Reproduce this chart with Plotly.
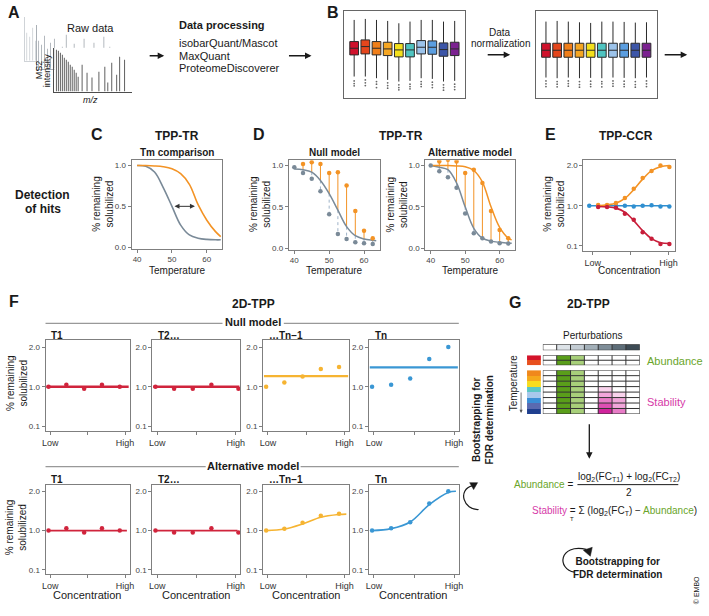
import plotly.graph_objects as go

W, H = 709, 616
FONT = "Liberation Sans"

# ---------------- data ----------------
# Panel A: MS2 spectra (relative m/z position, intensity)
front_mz = [2, 4, 6, 8, 10, 12, 14, 16, 18, 20, 22, 24, 28, 33, 38, 45, 51, 54, 58, 63, 66, 71]
front_int = [42, 41, 39, 37, 34, 32, 30, 27, 25, 22, 19, 15, 27, 19, 14, 20, 25, 9, 29, 17, 35, 32]
back_mz = [2, 5, 8, 11, 14, 18, 22, 26, 30, 34, 38, 43, 48, 53, 58, 63, 68, 74]
back_int = [28, 24, 33, 20, 26, 30, 16, 22, 34, 18, 25, 12, 30, 20, 26, 14, 32, 22]

# Panel B: boxplot statistics per TMT channel (raw and normalised)
channels = list(range(10))
box_colors = ["#d0122c", "#e4461c", "#f07f1a", "#f5a623", "#f4e01c",
              "#4fc4c1", "#9cc3ea", "#5b9ee0", "#3d56a8", "#7b2190"]
raw_q1 = [150, 153, 150, 148, 144, 144, 153, 152, 146, 148]
raw_med = [170, 175, 170, 168, 165, 165, 173, 173, 166, 168]
raw_q3 = [190, 195, 190, 188, 184, 184, 193, 192, 186, 188]
raw_hi = [255, 258, 255, 252, 245, 250, 255, 255, 250, 252]
raw_lo = [85, 85, 80, 75, 70, 72, 80, 78, 70, 72]
raw_out = [[72, 64, 57], [75, 66, 58], [70, 62, 52], [66, 58, 50], [60, 52, 45],
           [62, 55, 48], [70, 62, 55], [68, 60, 52], [60, 52, 44], [62, 54, 46]]
norm_q1 = [143, 143, 143, 143, 143, 143, 143, 143, 143, 143]
norm_med = [164, 164, 164, 164, 164, 164, 164, 164, 164, 164]
norm_q3 = [185, 185, 185, 185, 185, 185, 185, 185, 185, 185]
norm_hi = [250, 252, 250, 248, 246, 250, 250, 249, 247, 248]
norm_lo = [82, 80, 82, 80, 81, 80, 82, 81, 80, 82]
norm_out = [[72, 63, 55], [70, 62, 54], [72, 64, 56], [70, 61, 53], [71, 62, 55],
            [70, 63, 54], [72, 64, 56], [71, 62, 55], [70, 61, 53], [72, 63, 55]]

# Panel C: Tm comparison curves
tm_temp = [40, 42.5, 45, 47.5, 50, 52.5, 55, 57.5, 60, 62.5, 64]
tm_vehicle = [1.0, 0.99, 0.92, 0.73, 0.5, 0.27, 0.15, 0.11, 0.095, 0.09, 0.09]
tm_treated = [1.0, 1.0, 0.995, 0.985, 0.96, 0.9, 0.77, 0.52, 0.33, 0.19, 0.13]

# Panel D: TPP-TR null / alternative model
d_temp = [40, 42.5, 45, 47.5, 50, 52.5, 55, 57.5, 60, 62.5]
fit_temp = [40, 42.5, 45, 47.5, 50, 52.5, 55, 57.5, 60, 62.5, 63.5]
null_ctrl = [0.98, 0.91, 0.84, 0.69, 0.41, 0.17, 0.11, 0.07, 0.06, 0.05]
null_trt = [None, 1.02, 1.04, 1.02, 0.91, 0.92, 0.76, 0.45, 0.21, 0.12]
null_fit = [0.96, 0.95, 0.92, 0.82, 0.66, 0.46, 0.26, 0.15, 0.11, 0.095, 0.09]
alt_ctrl = [1.0, 0.93, 0.86, 0.73, 0.42, 0.18, 0.12, 0.08, 0.06, 0.055]
alt_trt = [None, 1.05, 1.07, 1.05, 0.91, 0.95, 0.79, 0.45, 0.22, 0.12]
alt_fit_ctrl = [1.0, 0.98, 0.95, 0.79, 0.5, 0.24, 0.12, 0.085, 0.07, 0.06, 0.058]
alt_fit_trt = [1.0, 1.0, 1.0, 0.995, 0.985, 0.94, 0.8, 0.5, 0.25, 0.12, 0.1]

# Panel E: TPP-CCR (display scale: 0 -> 0.1, 1 -> 1.0, 2 -> 2.0)
e_conc_all = [0, 1, 2, 3, 4, 5, 6, 7, 8, 9]
e_conc = [1, 2, 3, 4, 5, 6, 7, 8, 9]
e_up = [1.02, 1.02, 1.07, 1.19, 1.42, 1.69, 1.86, 2.0, 1.96]
e_up_fit = [1.0, 1.02, 1.06, 1.18, 1.4, 1.66, 1.87, 1.97, 2.0]
e_down = [0.97, 0.97, 0.95, 0.8, 0.65, 0.34, 0.18, 0.05, 0.05]
e_down_fit = [0.98, 0.97, 0.94, 0.84, 0.63, 0.38, 0.18, 0.08, 0.06]
e_flat = [1.0, 1.0, 1.0, 1.0, 1.0, 0.98, 1.0, 1.01, 0.98, 0.98]
e_flat_fit = [1.0, 1.0, 1.0, 1.0, 1.0, 1.0, 1.0, 1.0, 1.0, 1.0]

# Panel F: 2D-TPP per temperature (display scale as in E)
f_titles = ["T1", "T2…", "…Tn−1", "Tn"]
f_x = [[0, 1, 2, 3, 4], [0, 1, 2, 3, 4.45], [0, 1, 2, 3, 4], [0, 1, 2, 3, 4]]
f_null_pts = [[1.0, 1.05, 0.95, 1.05, 1.0], [1.0, 0.95, 0.95, 1.05, 0.95],
              [1.0, 1.11, 1.26, 1.45, 1.5], [1.0, 1.05, 1.21, 1.7, 2.0]]
f_null_level = [1.0, 1.0, 1.27, 1.49]
f_alt_pts = [[1.0, 1.06, 0.95, 1.06, 1.0], [1.0, 0.95, 0.95, 1.06, 0.95],
             [1.0, 1.05, 1.2, 1.38, 1.43], [1.0, 1.06, 1.21, 1.69, 2.0]]
f_alt_fit_x = [0, 1, 2, 3, 4, 4.4]
f_alt_fit = [[1.0, 1.0, 1.0, 1.0, 1.0, 1.0], [1.0, 1.0, 1.0, 1.0, 1.0, 1.0],
             [1.0, 1.04, 1.17, 1.34, 1.41, 1.42], [1.0, 1.05, 1.22, 1.66, 1.97, 2.0]]
f_colors = ["#d0243c", "#d0243c", "#f6b432", "#3a97d4"]

# Panel G: 2D-TPP matrix
pert_levels = [[0, 1, 2, 3, 4, 5, 6]]
pert_colors = ["#ffffff", "#dde3e8", "#c3ccd3", "#a2afb8", "#7e8d98", "#5d6d78", "#3d4b55"]
temp_top = [[0], [1]]
temp_top_colors = ["#d4142a", "#e8501e"]
temp_bot = [[0], [1], [2], [3], [4], [5], [6], [7]]
temp_bot_colors = ["#f0881c", "#f5a81c", "#f7dc1e", "#5bc6c4", "#a8c8ec", "#3a8ed6", "#5a6ab0", "#1f3f8f"]
grid_colors = ["#ffffff", "#5a9e1a", "#a8d07a", "#f9d3ec", "#f1a6da", "#e87cc7", "#dd4fb3", "#d0239c"]
grid_top = [[0, 1, 2, 0, 0, 0, 0],
            [0, 1, 2, 0, 0, 0, 0]]
grid_bot = [[0, 1, 2, 0, 0, 0, 0],
            [0, 1, 2, 0, 0, 0, 0],
            [0, 1, 2, 0, 0, 0, 0],
            [0, 1, 2, 0, 3, 0, 0],
            [0, 1, 2, 0, 4, 3, 0],
            [0, 1, 2, 0, 5, 4, 0],
            [0, 1, 2, 0, 6, 4, 0],
            [0, 1, 2, 0, 7, 5, 0]]

# ---------------- helpers ----------------
fig = go.Figure()
axes_layout = {}
counter = [0]
anns = []
shapes = []


def axes(x0, x1, y0, y1, xo=None, yo=None):
    counter[0] += 1
    n = counter[0]
    s = "" if n == 1 else str(n)
    xa = dict(domain=[x0 / W, x1 / W], anchor="y" + s, showgrid=False, zeroline=False)
    ya = dict(domain=[1 - y1 / H, 1 - y0 / H], anchor="x" + s, showgrid=False, zeroline=False)
    xa.update(xo or {})
    ya.update(yo or {})
    axes_layout["xaxis" + s] = xa
    axes_layout["yaxis" + s] = ya
    return "x" + s, "y" + s


def T(x, y, s, size=10, bold=False, color="#1a1a1a", xa="center", ya="middle", angle=0, italic=False):
    if bold:
        s = "<b>" + s + "</b>"
    if italic:
        s = "<i>" + s + "</i>"
    anns.append(dict(x=x / W, y=1 - y / H, xref="paper", yref="paper", text=s, showarrow=False,
                     font=dict(size=size, color=color, family=FONT), xanchor=xa, yanchor=ya,
                     textangle=angle))


def ARR(x0, y0, x1, y1, w=1.3, head=2, size=1.0, color="#1a1a1a"):
    anns.append(dict(x=x1 / W, y=1 - y1 / H, xref="paper", yref="paper", ax=x0 - x1, ay=y0 - y1,
                     text="", showarrow=True, arrowhead=head, arrowsize=size, arrowwidth=w,
                     arrowcolor=color))


def LINE(x0, y0, x1, y1, color="#999999", w=1.2):
    shapes.append(dict(type="line", xref="paper", yref="paper", x0=x0 / W, x1=x1 / W,
                       y0=1 - y0 / H, y1=1 - y1 / H, line=dict(color=color, width=w)))


def P(x, y):
    return f"{x / W:.5f} {1 - y / H:.5f}"


def disc_scale(colors):
    n = len(colors)
    if n == 1:
        return [[0, colors[0]], [1, colors[0]]]
    return [[i / (n - 1), c] for i, c in enumerate(colors)]


frame = dict(showline=True, mirror=True, linecolor="#7f7f7f", linewidth=1, ticks="outside",
             ticklen=3, tickcolor="#7f7f7f", tickfont=dict(size=8, color="#444", family=FONT))
frame_nofont = {k: v for k, v in frame.items() if k != "tickfont"}

# ---------------- Panel A ----------------
layers = [  # (x0, x1, baseline y, colour)
    (22, 100, 61, "#cfd3d7"),
    (34, 112, 69, "#aab0b6"),
    (52, 130, 92, "#4d4d4d"),
]
for i, (lx0, lx1, base, col) in enumerate(layers):
    xa, ya = axes(lx0, lx1, base - 44, base,
                  dict(range=[0, 78], showline=True, linecolor=col, linewidth=1,
                       showticklabels=False, ticks=""),
                  dict(range=[0, 44], showline=True, linecolor=col, linewidth=1,
                       showticklabels=False, ticks=""))
    mz = front_mz if i == 2 else back_mz
    it = front_int if i == 2 else back_int
    fig.add_trace(go.Bar(x=mz, y=it, width=0.9, marker=dict(color=col, line=dict(width=0)),
                         xaxis=xa, yaxis=ya, hoverinfo="skip"))

T(11, 13, "A", 16, bold=True)
T(88, 28, "Raw data", 11)
T(36, 70, "MS2", 9, angle=-90)
T(44, 71, "intensity", 9, angle=-90)
T(88, 100, "m/z", 9, italic=True)
ARR(147, 56, 163, 56)
T(176, 25, "Data processing", 11, bold=True, xa="left")
T(176, 43, "isobarQuant/Mascot", 11, xa="left")
T(176, 56, "MaxQuant", 11, xa="left")
T(176, 68, "ProteomeDiscoverer", 11, xa="left")
ARR(288, 56, 312, 56)

# ---------------- Panel B ----------------
T(334, 13, "B", 16, bold=True)
for (bx0, bx1, q1, med, q3, lo, hi, outs) in [
        (345, 467, raw_q1, raw_med, raw_q3, raw_lo, raw_hi, raw_out),
        (539, 661, norm_q1, norm_med, norm_q3, norm_lo, norm_hi, norm_out)]:
    xa, ya = axes(bx0, bx1, 11, 98,
                  dict(range=[-0.9, 9.9], showline=True, mirror=True, linecolor="#666",
                       showticklabels=False, ticks=""),
                  dict(range=[22, 282], showline=True, mirror=True, linecolor="#666",
                       showticklabels=False, ticks=""))
    for i in channels:
        fig.add_trace(go.Scatter(x=[i] * len(outs[i]), y=outs[i], mode="markers",
                                 marker=dict(size=1.8, color="#666"), xaxis=xa, yaxis=ya,
                                 hoverinfo="skip"))
        fig.add_trace(go.Box(x=[i], q1=[q1[i]], median=[med[i]], q3=[q3[i]],
                             lowerfence=[lo[i]], upperfence=[hi[i]], width=0.78,
                             whiskerwidth=0, fillcolor=box_colors[i], boxpoints=False,
                             line=dict(color="#2b2b2b", width=1), xaxis=xa, yaxis=ya,
                             hoverinfo="skip"))
T(503, 33, "Data", 10)
T(503, 44, "normalization", 10)
ARR(489, 55, 513, 55)
ARR(668, 55, 692, 55)

# ---------------- Panel C ----------------
T(40, 196, "Detection", 12, bold=True)
T(40, 210, "of hits", 12, bold=True)
T(95, 135, "C", 16, bold=True)
T(176, 137, "TPP-TR", 12, bold=True)
T(176, 153, "Tm comparison", 10, bold=True)

tr_x = dict(range=[38.4, 64.5], tickvals=[40, 50, 60], **frame)
tr_y = dict(range=[-0.02, 1.065], tickvals=[0, 0.5, 1.0], tickformat=".1f", **frame)
xc, yc = axes(130, 222, 161, 250, tr_x, tr_y)
fig.add_trace(go.Scatter(x=tm_temp, y=tm_vehicle, mode="lines", line=dict(color="#7a8a98", width=1.6, shape="spline"),
                         xaxis=xc, yaxis=yc, hoverinfo="skip"))
fig.add_trace(go.Scatter(x=tm_temp, y=tm_treated, mode="lines", line=dict(color="#f39325", width=1.6, shape="spline"),
                         xaxis=xc, yaxis=yc, hoverinfo="skip"))
anns.append(dict(x=56.6, y=0.5, ax=50.3, ay=0.5, xref=xc, yref=yc, axref=xc, ayref=yc, text="",
                 showarrow=True, arrowside="end+start", arrowhead=2, startarrowhead=2,
                 arrowwidth=1, arrowsize=1, startarrowsize=1, arrowcolor="#333"))
T(101, 205, "% remaining<br>solubilized", 10, angle=-90)
T(176, 272, "Temperature", 10)

# ---------------- Panel D ----------------
T(259, 135, "D", 16, bold=True)
T(403, 137, "TPP-TR", 12, bold=True)
for (dx0, dx1, title, ctrl, trt, fit_c, fit_t) in [
        (289, 381, "Null model", null_ctrl, null_trt, null_fit, None),
        (427, 518, "Alternative model", alt_ctrl, alt_trt, alt_fit_ctrl, alt_fit_trt)]:
    xd, yd = axes(dx0, dx1, 161, 251, tr_x, tr_y)
    ox, oy, gx, gy = [], [], [], []
    for i, t in enumerate(d_temp):
        if trt[i] is None:
            continue
        ox += [t, t, None]
        oy += [trt[i], fit_c[i], None]
        gx += [t, t, None]
        gy += [fit_c[i], ctrl[i], None]
    fig.add_trace(go.Scatter(x=gx, y=gy, mode="lines", line=dict(color="#9fb3c8", width=1, dash="dot"),
                             xaxis=xd, yaxis=yd, hoverinfo="skip"))
    fig.add_trace(go.Scatter(x=ox, y=oy, mode="lines", line=dict(color="#f39325", width=1),
                             xaxis=xd, yaxis=yd, hoverinfo="skip"))
    fig.add_trace(go.Scatter(x=fit_temp, y=fit_c, mode="lines", line=dict(color="#7a8a98", width=1.5, shape="spline"),
                             xaxis=xd, yaxis=yd, hoverinfo="skip"))
    if fit_t is not None:
        fig.add_trace(go.Scatter(x=fit_temp, y=fit_t, mode="lines", line=dict(color="#f39325", width=1.5, shape="spline"),
                                 xaxis=xd, yaxis=yd, hoverinfo="skip"))
    fig.add_trace(go.Scatter(x=d_temp, y=ctrl, mode="markers", marker=dict(color="#7a8a98", size=4.5),
                             xaxis=xd, yaxis=yd, hoverinfo="skip"))
    fig.add_trace(go.Scatter(x=d_temp, y=trt, mode="markers", marker=dict(color="#f39325", size=4.5),
                             xaxis=xd, yaxis=yd, hoverinfo="skip"))
    T((dx0 + dx1) / 2, 153, title, 10, bold=True)
    T((dx0 + dx1) / 2, 272, "Temperature", 10)
T(260, 205, "% remaining<br>solubilized", 10, angle=-90)
T(399, 205, "% remaining<br>solubilized", 10, angle=-90)

# ---------------- Panel E ----------------
T(554, 135, "E", 16, bold=True)
T(630, 137, "TPP-CCR", 12, bold=True)
ccr_y = dict(range=[-0.12, 2.13], tickvals=[0, 1, 2], ticktext=["0.1", "1.0", "2.0"], **frame)
xe, ye = axes(587, 680, 161, 252,
              dict(range=[-0.66, 9.67], tickvals=[0.4, 8.9], ticktext=["Low", "High"],
                   minor=dict(tickvals=[4.6], ticks="outside", ticklen=3, tickcolor="#7f7f7f"),
                   **frame_nofont, tickfont=dict(size=9, color="#333", family=FONT)),
              ccr_y)
for xs, pts, fxs, fit, col in [(e_conc_all, e_flat, e_conc_all, e_flat_fit, "#2f8fd0"),
                               (e_conc, e_up, e_conc, e_up_fit, "#f39325"),
                               (e_conc, e_down, e_conc, e_down_fit, "#c81e3a")]:
    fig.add_trace(go.Scatter(x=fxs, y=fit, mode="lines", line=dict(color=col, width=1.6, shape="spline"),
                             xaxis=xe, yaxis=ye, hoverinfo="skip"))
    fig.add_trace(go.Scatter(x=xs, y=pts, mode="markers", marker=dict(color=col, size=4.5),
                             xaxis=xe, yaxis=ye, hoverinfo="skip"))
T(557, 205, "% remaining<br>solubilized", 10, angle=-90)
T(633, 272, "Concentration", 10)

# ---------------- Panel F ----------------
T(11, 303, "F", 16, bold=True)
T(253, 305, "2D-TPP", 12, bold=True)
T(253, 324, "Null model", 11, bold=True)
LINE(43, 325, 222, 325)
LINE(284, 325, 461, 325)
T(253, 468, "Alternative model", 11, bold=True)
LINE(43, 469, 205, 469)
LINE(301, 469, 461, 469)

f_boxes = [(43, 128), (151, 240), (263, 350), (370, 461)]
f_xaxis = dict(range=[-0.17, 4.55], tickvals=[0.1, 4.3], ticktext=["Low", "High"],
               minor=dict(tickvals=[2.2], ticks="outside", ticklen=3, tickcolor="#7f7f7f"),
               **frame_nofont, tickfont=dict(size=9, color="#333", family=FONT))
f_yaxis = dict(range=[-0.11, 2.17], tickvals=[0, 1, 2], ticktext=["0.1", "1.0", "2.0"], **frame)
for k, (fx0, fx1) in enumerate(f_boxes):
    col = f_colors[k]
    # null model row
    xa, ya = axes(fx0, fx1, 342, 433, f_xaxis, f_yaxis)
    fig.add_trace(go.Scatter(x=[-0.12, 4.5], y=[f_null_level[k], f_null_level[k]], mode="lines",
                             line=dict(color=col, width=2.4), xaxis=xa, yaxis=ya, hoverinfo="skip"))
    fig.add_trace(go.Scatter(x=f_x[k], y=f_null_pts[k], mode="markers", marker=dict(color=col, size=4.5),
                             xaxis=xa, yaxis=ya, hoverinfo="skip"))
    T(fx0 + 4, 337, f_titles[k], 10, bold=True, xa="left")
    # alternative model row
    xa, ya = axes(fx0, fx1, 487, 577, f_xaxis, f_yaxis)
    fig.add_trace(go.Scatter(x=f_alt_fit_x, y=f_alt_fit[k], mode="lines",
                             line=dict(color=col, width=1.6, shape="spline"),
                             xaxis=xa, yaxis=ya, hoverinfo="skip"))
    fig.add_trace(go.Scatter(x=f_x[k], y=f_alt_pts[k], mode="markers", marker=dict(color=col, size=4.5),
                             xaxis=xa, yaxis=ya, hoverinfo="skip"))
    T(fx0 + 4, 482, f_titles[k], 10, bold=True, xa="left")
    T((fx0 + fx1) / 2, 598, "Concentration", 11)
T(14, 385, "% remaining<br>solubilized", 10, angle=-90)
T(14, 530, "% remaining<br>solubilized", 10, angle=-90)

# bootstrapping (vertical)
T(485, 422, "Bootstrapping for<br>FDR determination", 10, bold=True, angle=-90)
shapes.append(dict(type="path", xref="paper", yref="paper",
                   path=f"M {P(481, 512)} C {P(466, 513)} {P(459, 492)} {P(475, 488)}",
                   line=dict(color="#1a1a1a", width=1.2)))
shapes.append(dict(type="path", xref="paper", yref="paper",
                   path=f"M {P(480, 485)} L {P(472, 485)} L {P(476, 492)} Z",
                   fillcolor="#1a1a1a", line=dict(color="#1a1a1a", width=0.5)))

# ---------------- Panel G ----------------
T(518, 304, "G", 16, bold=True)
T(592, 305, "2D-TPP", 12, bold=True)
T(596, 337, "Perturbations", 10)

plain_ax = dict(showticklabels=False, ticks="", showline=False)


def grid_lines(xa, ya, ncol, nrow):
    for c in range(ncol + 1):
        shapes.append(dict(type="line", xref=xa, yref=ya, x0=c - 0.5, x1=c - 0.5,
                           y0=-0.5, y1=nrow - 0.5, line=dict(color="#333", width=1), layer="above"))
    for r in range(nrow + 1):
        shapes.append(dict(type="line", xref=xa, yref=ya, x0=-0.5, x1=ncol - 0.5,
                           y0=r - 0.5, y1=r - 0.5, line=dict(color="#333", width=1), layer="above"))


xa, ya = axes(546, 644, 346, 352, dict(range=[-0.5, 6.5], **plain_ax), dict(range=[0.5, -0.5], **plain_ax))
fig.add_trace(go.Heatmap(z=pert_levels, colorscale=disc_scale(pert_colors), zmin=0, zmax=len(pert_colors) - 1,
                         showscale=False, xaxis=xa, yaxis=ya, hoverinfo="skip"))
grid_lines(xa, ya, 7, 1)

for (y0, y1, z, cols, grid) in [(357, 367, temp_top, temp_top_colors, grid_top),
                                (372, 416, temp_bot, temp_bot_colors, grid_bot)]:
    n = len(z)
    xa, ya = axes(530, 544, y0, y1, dict(range=[-0.5, 0.5], **plain_ax),
                  dict(range=[n - 0.5, -0.5], **plain_ax))
    fig.add_trace(go.Heatmap(z=z, colorscale=disc_scale(cols), zmin=0, zmax=len(cols) - 1,
                             showscale=False, xaxis=xa, yaxis=ya, hoverinfo="skip"))
    xa, ya = axes(546, 644, y0, y1, dict(range=[-0.5, 6.5], **plain_ax),
                  dict(range=[n - 0.5, -0.5], **plain_ax))
    fig.add_trace(go.Heatmap(z=grid, colorscale=disc_scale(grid_colors), zmin=0, zmax=len(grid_colors) - 1,
                             showscale=False, xaxis=xa, yaxis=ya, hoverinfo="skip"))
    grid_lines(xa, ya, 7, n)

T(649, 363, "Abundance", 11, color="#6aa52a", xa="left")
T(649, 404, "Stability", 11, color="#d63aa8", xa="left")
T(516, 385, "Temperature", 10, angle=-90)
ARR(524, 393, 524, 415, w=0.8, head=2, size=0.8, color="#555")
ARR(593, 425, 593, 461, w=1.3)

GREEN = "#6aa52a"
MAG = "#d63aa8"
T(633, 479, "log<sub>2</sub>(FC<sub>T1</sub>) + log<sub>2</sub>(FC<sub>T2</sub>)", 10)
LINE(581, 487, 683, 487, color="#1a1a1a", w=1)
T(633, 495, "2", 10)
T(579, 487, f"<span style='color:{GREEN}'>Abundance</span> =", 10, xa="right")
T(533, 513, f"<span style='color:{MAG}'>Stability</span> = Σ (log<sub>2</sub>(FC<sub>T</sub>) − "
            f"<span style='color:{GREEN}'>Abundance</span>)", 10, xa="left")
T(575, 522, "T", 6)

T(622, 571, "Bootstrapping for<br>FDR determination", 10, bold=True)
shapes.append(dict(type="path", xref="paper", yref="paper",
                   path=f"M {P(578, 575)} C {P(560, 572)} {P(562, 546)} {P(590, 552)}",
                   line=dict(color="#1a1a1a", width=1.2)))
shapes.append(dict(type="path", xref="paper", yref="paper",
                   path=f"M {P(594, 559)} L {P(587, 553)} L {P(596, 550)} Z",
                   fillcolor="#1a1a1a", line=dict(color="#1a1a1a", width=0.5)))

T(701, 593, "© EMBO", 7, angle=-90)

fig.update_layout(width=W, height=H, margin=dict(l=0, r=0, t=0, b=0), paper_bgcolor="white",
                  plot_bgcolor="white", showlegend=False, annotations=anns, shapes=shapes,
                  font=dict(family=FONT, color="#1a1a1a"), barmode="overlay", **axes_layout)
fig.write_html("out.html", config={"displayModeBar": False, "staticPlot": True},
               post_script="document.body.style.margin='0px';document.body.style.overflow='hidden';")
